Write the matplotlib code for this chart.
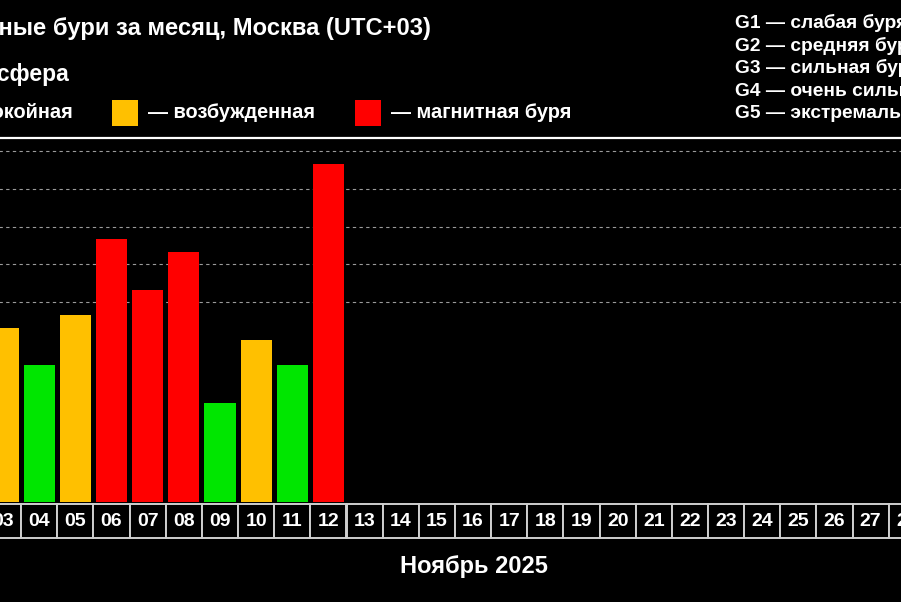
import matplotlib
matplotlib.use("Agg")
import matplotlib.pyplot as plt
from matplotlib.patches import Rectangle

plt.rcParams['font.family'] = ['Liberation Sans', 'DejaVu Sans']
plt.rcParams['font.weight'] = 'bold'

# данные: Kp-индекс по дням (ноябрь 2025)
days = list(range(1, 31))
bar_days = [3, 4, 5, 6, 7, 8, 9, 10, 11, 12]
kp = [4.33, 3.33, 4.67, 6.67, 5.33, 6.33, 2.33, 4.0, 3.33, 8.67]
g_levels = [5, 6, 7, 8, 9]
g_labels = ["G1 — слабая буря", "G2 — средняя буря", "G3 — сильная буря",
            "G4 — очень сильная буря", "G5 — экстремально сильная буря"]
month_label = "Ноябрь 2025"
title = "Магнитные бури за месяц, Москва (UTC+03)"

GREEN = '#00e600'
YELLOW = '#ffc000'
RED = '#ff0000'

def kp_color(v):
    if v >= 5:
        return RED
    if v >= 4:
        return YELLOW
    return GREEN

W, H = 901, 602
fig = plt.figure(figsize=(W / 100, H / 100), dpi=100, facecolor='black')

def fx(px):
    return px / W

def fy(py):
    return 1 - py / H

# основная область: дни 0.5..30.5, часть выходит за края кадра
left_px, right_px = -87.3, 997.2
ymin, ymax = -0.3, 9.35
ax = fig.add_axes([fx(left_px), fy(502.3), fx(right_px - left_px), (502.3 - 138) / H])
ax.set_facecolor('black')
ax.set_xlim(0.5, 30.5)
ax.set_ylim(ymin, ymax)
for lv in g_levels:
    ax.axhline(lv, color='#9a9a9a', lw=0.8, ls=(0, (3, 3)), zorder=1)
ax.bar(bar_days, [v - ymin for v in kp], bottom=ymin, width=0.86,
       color=[kp_color(v) for v in kp], zorder=2)
ax.set_xticks([])
ax.set_yticks([])
for s in ['left', 'right', 'bottom']:
    ax.spines[s].set_visible(False)
ax.spines['top'].set_color('white')
ax.spines['top'].set_linewidth(1.6)

# строка с числами месяца
lab = fig.add_axes([fx(left_px), fy(539.5), fx(right_px - left_px), 36.5 / H])
lab.set_facecolor('black')
lab.set_xlim(0.5, 30.5)
lab.set_ylim(-0.03, 1.03)
lab.axis('off')
for d in days:
    lab.add_patch(Rectangle((d - 0.5, 0), 1, 1, fc='black', ec='#cfcfcf', lw=1.4))
    lab.text(d, 0.5, f"{d:02d}", color='white', fontsize=14, fontweight='bold',
             ha='center', va='center')

fig.text(fx(473.5), fy(567), month_label, color='white', fontsize=17,
         fontweight='bold', ha='center', va='center')

# заголовок и легенда
fig.text(fx(431), fy(29), title, color='white', fontsize=17.1, fontweight='bold',
         ha='right', va='center')
fig.text(fx(69), fy(75), "Магнитосфера", color='white', fontsize=16.5,
         fontweight='bold', ha='right', va='center')

legend_items = [("— спокойная", GREEN, -93), ("— возбужденная", YELLOW, 112),
                ("— магнитная буря", RED, 355)]
for text, col, x0 in legend_items:
    fig.patches.append(Rectangle((fx(x0), fy(126)), fx(25.5), 25.5 / H,
                                 transform=fig.transFigure, fc=col, ec='none'))
    fig.text(fx(x0 + 36), fy(112), text, color='white', fontsize=14.4,
             fontweight='bold', ha='left', va='center')

for i, g in enumerate(g_labels):
    fig.text(fx(735), fy(23 + i * 22.6), g, color='white', fontsize=13.8,
             fontweight='bold', ha='left', va='center')

fig.savefig('out.png', dpi=100, facecolor='black')
